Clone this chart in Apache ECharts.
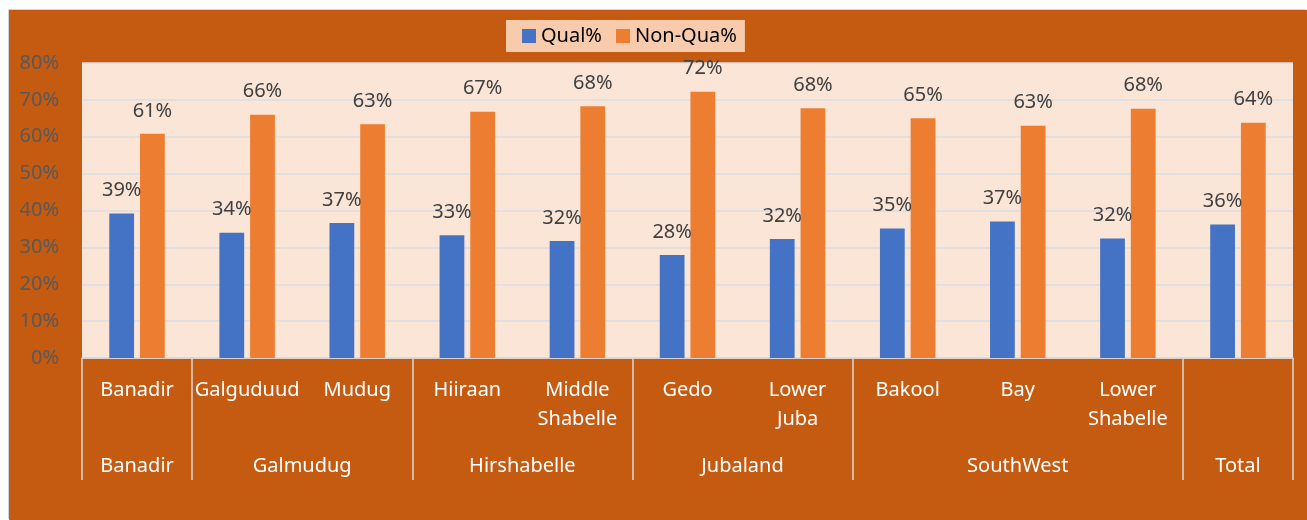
<!DOCTYPE html>
<html>
<head>
<meta charset="utf-8">
<script src="https://cdn.jsdelivr.net/npm/echarts@6/dist/echarts.min.js"></script>
<style>
  body { margin: 0; background: #fff; }
  #main { position: absolute; left: 9px; top: 10px; width: 1298px; height: 510px; box-shadow: -1px -1px 0 #d4d4d4; }
</style>
</head>
<body>
<div id="main"></div>
<script>
// districts (first level of the category axis)
const districts = ["Banadir", "Galguduud", "Mudug", "Hiiraan", "Middle\nShabelle", "Gedo", "Lower\nJuba", "Bakool", "Bay", "Lower\nShabelle", ""];
// states (second level) and how many districts each one covers
const states = ["Banadir", "Galmudug", "Hirshabelle", "Jubaland", "SouthWest", "Total"];
const stateSizes = [1, 2, 2, 2, 3, 1];
// percentages
const qual = [39.2, 34.0, 36.6, 33.3, 31.7, 27.9, 32.3, 35.1, 37.0, 32.4, 36.2];
const nonQual = [60.8, 66.0, 63.4, 66.8, 68.3, 72.2, 67.7, 65.0, 63.0, 67.6, 63.8];
const yTicks = [0, 10, 20, 30, 40, 50, 60, 70, 80];

// boundaries and centres of the state groups, in category units
const bounds = [0];
stateSizes.forEach(s => bounds.push(bounds[bounds.length - 1] + s));
const centres = stateSizes.map((s, i) => bounds[i] + s / 2);

const font = "Noto Sans";
const chart = echarts.init(document.getElementById("main"));

const labelStyle = {
  show: true,
  position: "top",
  distance: 13,
  fontFamily: font,
  fontSize: 20,
  color: "#404040",
  formatter: p => Math.round(p.value) + "%"
};

const option = {
  backgroundColor: "#c55a11",
  animation: false,
  textStyle: { fontFamily: font },
  legend: {
    left: 497,
    top: 10,
    padding: [6, 8, 6, 16],
    backgroundColor: "#f8cbad",
    itemWidth: 14,
    itemHeight: 14,
    itemGap: 14,
    icon: "rect",
    textStyle: { fontFamily: font, fontSize: 20, color: "#000" },
    data: ["Qual%", "Non-Qua%"]
  },
  grid: {
    left: 73,
    right: 14,
    top: 53,
    bottom: 162,
    show: true,
    backgroundColor: "#fbe5d6",
    borderWidth: 0,
    containLabel: false
  },
  xAxis: [
    {
      type: "category",
      data: districts,
      position: "bottom",
      axisLine: { lineStyle: { color: "#d9d9d9", width: 1.5 } },
      axisTick: { show: false },
      axisLabel: {
        interval: 0,
        margin: 18,
        color: "#fff",
        fontFamily: font,
        fontSize: 20,
        lineHeight: 29
      }
    },
    {
      type: "value",
      min: 0,
      max: bounds[bounds.length - 1],
      position: "bottom",
      axisLine: { show: false },
      splitLine: { show: false },
      axisTick: {
        show: true,
        customValues: bounds,
        length: 122,
        lineStyle: { color: "#d9d9d9", width: 1.5 }
      },
      axisLabel: {
        customValues: centres,
        margin: 94,
        color: "#fff",
        fontFamily: font,
        fontSize: 20,
        lineHeight: 29,
        formatter: v => states[centres.indexOf(v)]
      }
    }
  ],
  yAxis: {
    type: "value",
    min: yTicks[0],
    max: yTicks[yTicks.length - 1],
    interval: 10,
    axisLine: { show: false },
    axisTick: { show: false },
    splitLine: { lineStyle: { color: "#d9dde3", width: 1.5 } },
    axisLabel: {
      margin: 23,
      color: "#595959",
      fontFamily: font,
      fontSize: 20,
      formatter: "{value}%"
    }
  },
  series: [
    {
      name: "Qual%",
      type: "bar",
      xAxisIndex: 0,
      data: qual,
      barWidth: "22.5%",
      barGap: "24%",
      itemStyle: { color: "#4472c4" },
      label: labelStyle
    },
    {
      name: "Non-Qua%",
      type: "bar",
      xAxisIndex: 0,
      data: nonQual,
      barWidth: "22.5%",
      barGap: "24%",
      itemStyle: { color: "#ed7d31" },
      label: labelStyle
    }
  ]
};

chart.setOption(option);
</script>
</body>
</html>
